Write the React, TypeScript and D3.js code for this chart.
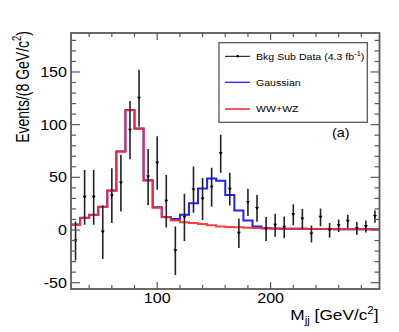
import React from "react";
import * as d3 from "d3";

// ---- data ----
const binCenters = [28, 36, 44, 52, 60, 68, 76, 84, 92, 100, 108, 116, 124, 132, 140, 148, 156, 164, 172, 180, 188, 196, 204, 212, 220, 228, 236, 244, 252, 260, 268, 276, 284, 292];
const binHalfWidth = 4;
const wwwz = [5.0, 11.4, 14.2, 21.8, 37.3, 74.4, 113.6, 96.2, 47.0, 21.2, 12.0, 9.0, 7.4, 6.6, 5.7, 4.4, 3.4, 2.8, 2.5, 2.2, 1.9, 1.6, 1.4, 1.3, 1.2, 1.1, 1.0, 0.9, 0.9, 0.8, 0.7, 0.7, 0.6, 0.6];
const gaussPlusWwwz = [5.2, 11.6, 14.4, 22.0, 37.5, 74.6, 113.8, 96.4, 47.3, 21.5, 12.4, 10.4, 14.5, 25.5, 39.4, 49.0, 46.8, 33.2, 18.6, 9.1, 3.4, 1.7, 1.4, 1.3, 1.2, 1.1, 1.0, 0.9, 0.9, 0.8, 0.7, 0.7, 0.6, 0.6];
const dataValues = [-10.5, 31, 31, -2, 32.6, 44.5, 94.8, 125, 50.3, 63.6, 27.3, -19.6, 12, 38.3, 29.4, 40.5, 72.3, 38.8, -3, 26.2, 20.5, 1, 4.5, 2.5, 14.5, 10.4, -3.8, 12, -0.3, 4, 8.2, 1.5, 3.4, 12.7];
const dataErrors = [18.5, 26, 26, 25.5, 26, 27, 27.7, 27, 26.5, 25.5, 25, 23, 22.5, 22, 20, 18.5, 18, 15.5, 14, 13, 12.7, 11.4, 11, 10.3, 10, 9.5, 8, 8.5, 7, 6, 6.3, 6, 5.7, 5.8];
const xDomain = [24, 296];
const yDomain = [-56, 187];
const yMajorTicks = [-50, 0, 50, 100, 150];
const xMajorTicks = [100, 200];
const legendLabels = ["Bkg Sub Data (4.3 fb", "Gaussian", "WW+WZ"];

const W = 399, H = 332;
const L = 71, R = 379.5, T = 33, B = 289;
const SX = 1.15;
const FONT = "'Liberation Sans', Arial, Helvetica, sans-serif";
const FRAME = "#5a5a5a";
const BLUE = "#2222ff";
const RED = "#ff2a2a";

function Txt({ x, y, size, anchor = "start", rotate = false, sx = SX, children }: any) {
  return (
    <text
      transform={`translate(${x},${y}) scale(${sx},1)${rotate ? " rotate(-90)" : ""}`}
      fontFamily={FONT}
      fontSize={size}
      textAnchor={anchor}
      fill="#000"
    >
      {children}
    </text>
  );
}

export default function App() {
  const x = d3.scaleLinear().domain(xDomain).range([L, R]);
  const y = d3.scaleLinear().domain(yDomain).range([B, T]);

  const stepPts = (vals: number[]) =>
    binCenters.flatMap((c, i) => [
      [c - binHalfWidth, vals[i]],
      [c + binHalfWidth, vals[i]],
    ]) as [number, number][];
  const line = d3
    .line<[number, number]>()
    .x((d) => x(d[0]))
    .y((d) => y(d[1]));

  const yMinor = d3.range(-50, 181, 10);
  const xMinor = d3.range(40, 281, 20);

  return (
    <div style={{ position: "fixed", left: 0, top: 0 }}>
      <svg width={W} height={H} viewBox={`0 0 ${W} ${H}`} style={{ display: "block", background: "#fff" }}>
        <defs>
          <clipPath id="plotclip">
            <rect x={L} y={T} width={R - L} height={B - T} />
          </clipPath>
        </defs>

        {/* histograms */}
        <g clipPath="url(#plotclip)">
          <path d={line(stepPts(gaussPlusWwwz)) || ""} fill="none" stroke={BLUE} strokeWidth={2} />
          <path d={line(stepPts(wwwz)) || ""} fill="none" stroke={RED} strokeWidth={2} strokeOpacity={0.9} />
          {/* data points */}
          {binCenters.map((c, i) => {
            const px = x(c);
            const py = y(dataValues[i]);
            return (
              <g key={i}>
                <line x1={px} x2={px} y1={y(dataValues[i] + dataErrors[i])} y2={y(dataValues[i] - dataErrors[i])} stroke="#222" strokeWidth={1.6} />
                <path d={`M${px - 2},${py - 1.5} L${px + 2},${py - 1.5} L${px},${py + 1.5} Z`} fill="#000" />
              </g>
            );
          })}
        </g>

        {/* frame */}
        <rect x={L} y={T} width={R - L} height={B - T} fill="none" stroke={FRAME} strokeWidth={1.8} />

        {/* y ticks */}
        {yMinor.map((v) => {
          const major = yMajorTicks.includes(v);
          const len = major ? 9 : 5;
          return (
            <g key={"y" + v} stroke={FRAME} strokeWidth={1.2}>
              <line x1={L} x2={L + len} y1={y(v)} y2={y(v)} />
              <line x1={R} x2={R - len} y1={y(v)} y2={y(v)} />
            </g>
          );
        })}
        {/* x ticks */}
        {xMinor.map((v) => {
          const major = xMajorTicks.includes(v);
          const len = major ? 7 : 4;
          return (
            <g key={"x" + v} stroke={FRAME} strokeWidth={1.2}>
              <line x1={x(v)} x2={x(v)} y1={B} y2={B - len} />
              <line x1={x(v)} x2={x(v)} y1={T} y2={T + len} />
            </g>
          );
        })}

        {/* tick labels */}
        {yMajorTicks.map((v) => (
          <Txt key={"yl" + v} x={67} y={y(v) + 5} size={14} anchor="end">
            {String(v)}
          </Txt>
        ))}
        {xMajorTicks.map((v) => (
          <Txt key={"xl" + v} x={x(v)} y={303} size={14} anchor="middle">
            {String(v)}
          </Txt>
        ))}

        {/* axis titles */}
        <Txt x={378.5} y={319.5} size={15} anchor="end">
          M<tspan fontSize={10} dy={4}>jj</tspan>
          <tspan dy={-4}> [GeV/c</tspan>
          <tspan fontSize={10} dy={-6}>2</tspan>
          <tspan dy={6}>]</tspan>
        </Txt>
        <Txt x={28.5} y={31} size={14} anchor="end" rotate sx={1.3}>
          Events/(8 GeV/c<tspan fontSize={9.5} dy={-6}>2</tspan>
          <tspan dy={6}>)</tspan>
        </Txt>

        {/* legend */}
        <rect x={219} y={42.7} width={148.3} height={79.6} fill="#fff" stroke={FRAME} strokeWidth={1.3} />
        <line x1={225} x2={250} y1={56.3} y2={56.3} stroke="#000" strokeWidth={1} />
        <circle cx={237.7} cy={56.3} r={1.3} fill="#000" />
        <Txt x={256} y={59.5} size={9.2}>
          {legendLabels[0]}
          <tspan fontSize={6.5} dy={-4}>-1</tspan>
          <tspan dy={4}>)</tspan>
        </Txt>
        <line x1={225} x2={250} y1={82.3} y2={82.3} stroke={BLUE} strokeWidth={1.3} />
        <Txt x={256} y={85.5} size={9.2}>{legendLabels[1]}</Txt>
        <line x1={225} x2={250} y1={109} y2={109} stroke="#e00" strokeWidth={1.3} />
        <Txt x={256} y={112.2} size={9.2}>{legendLabels[2]}</Txt>

        <Txt x={332} y={137} size={12.5}>(a)</Txt>
      </svg>
    </div>
  );
}
